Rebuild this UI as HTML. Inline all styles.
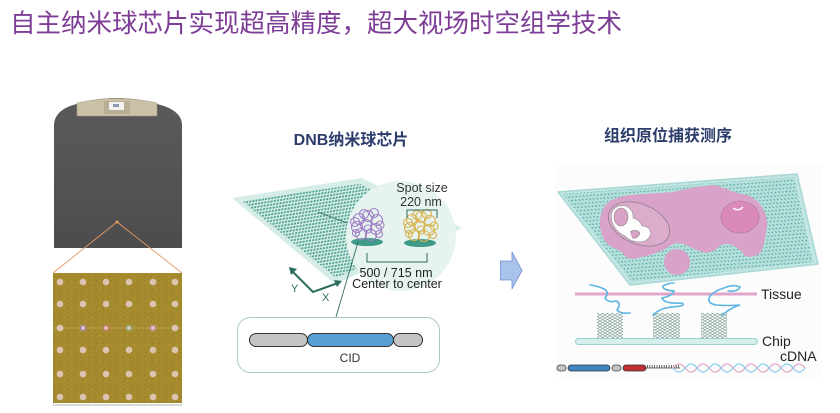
<!DOCTYPE html>
<html><head><meta charset="utf-8"><style>
html,body{margin:0;padding:0;background:#fff;}
svg{display:block;}
.cn{font-family:"Liberation Sans","Noto Sans CJK SC",sans-serif;}
.en{font-family:"Liberation Sans",sans-serif;}
</style></head><body>
<svg width="840" height="413" viewBox="0 0 840 413" xmlns="http://www.w3.org/2000/svg">
<defs>
  <linearGradient id="plate" x1="0" y1="0" x2="0" y2="1">
    <stop offset="0" stop-color="#5a5a5a"/>
    <stop offset="0.6" stop-color="#535353"/>
    <stop offset="1" stop-color="#4c4c4c"/>
  </linearGradient>
  <pattern id="cdots" width="3.2" height="3.2" patternUnits="userSpaceOnUse" patternTransform="rotate(-9) skewX(-20)">
    <rect width="3.2" height="3.2" fill="#d3ebe5"/>
    <rect x="0.5" y="0.5" width="2" height="1.8" fill="#4aa190"/>
  </pattern>
  <pattern id="rdots" width="3.6" height="3.6" patternUnits="userSpaceOnUse" patternTransform="rotate(-4.3) skewX(37)">
    <rect width="3.6" height="3.6" fill="#b4e0dc"/>
    <rect x="1" y="1" width="1.3" height="1.3" fill="#4f9c96"/>
  </pattern>
  <pattern id="mesh" width="5" height="3" patternUnits="userSpaceOnUse">
    <rect width="5" height="3" fill="#fff"/>
    <path d="M0,0 L5,3 M5,0 L0,3" stroke="#7f9d94" stroke-width="0.6"/>
  </pattern>
  <pattern id="gold" width="7" height="9" patternUnits="userSpaceOnUse">
    <rect width="7" height="9" fill="#a68b2e"/>
    <rect x="1" y="2" width="1" height="1" fill="#b89a3c"/>
    <rect x="4" y="6" width="1" height="1" fill="#927626"/>
    <rect x="5" y="1" width="1" height="1" fill="#8f7425"/>
  </pattern>
</defs>

<!-- Title -->
<text x="10" y="32" class="cn" font-size="25.5" fill="#7d3d96">自主纳米球芯片实现超高精度，超大视场时空组学技术</text>

<!-- Left chip plate -->
<path d="M54,248 L54,124 Q55,112 70,106 Q117,90 164,106 Q181,112 182,124 L182,248 Z" fill="url(#plate)"/>
<path d="M77,116 L77,103 Q117,94 157,103 L157,116 Z" fill="#cbc1a7" stroke="#a39a82" stroke-width="0.6"/>
<rect x="104" y="101" width="26" height="13" fill="#b8ae96"/>
<rect x="109" y="102" width="15" height="8" fill="#f2f2ee"/>
<rect x="113" y="104" width="6" height="3" fill="#8a9bb0"/>
<circle cx="117" cy="222" r="1.5" fill="#e8a040"/>
<line x1="117" y1="222" x2="53" y2="273" stroke="#e49a66" stroke-width="0.9"/>
<line x1="117" y1="222" x2="182" y2="273" stroke="#e49a66" stroke-width="0.9"/>

<!-- Gold microscope image -->
<rect x="53" y="273" width="129" height="130" fill="url(#gold)"/>
<g fill="#dcc3b2">
  <circle cx="60" cy="282" r="3.3"/><circle cx="83" cy="282" r="3.3"/><circle cx="106" cy="282" r="3.3"/><circle cx="129" cy="282" r="3.3"/><circle cx="153" cy="282" r="3.3"/><circle cx="175" cy="282" r="3.3"/>
  <circle cx="60" cy="304" r="3.3"/><circle cx="83" cy="304" r="3.3"/><circle cx="106" cy="304" r="3.3"/><circle cx="129" cy="304" r="3.3"/><circle cx="153" cy="304" r="3.3"/><circle cx="175" cy="304" r="3.3"/>
  <circle cx="60" cy="328" r="3.3"/><circle cx="83" cy="328" r="3.3"/><circle cx="106" cy="328" r="3.3"/><circle cx="129" cy="328" r="3.3"/><circle cx="153" cy="328" r="3.3"/><circle cx="175" cy="328" r="3.3"/>
  <circle cx="60" cy="350" r="3.3"/><circle cx="83" cy="350" r="3.3"/><circle cx="106" cy="350" r="3.3"/><circle cx="129" cy="350" r="3.3"/><circle cx="153" cy="350" r="3.3"/><circle cx="175" cy="350" r="3.3"/>
  <circle cx="60" cy="374" r="3.3"/><circle cx="83" cy="374" r="3.3"/><circle cx="106" cy="374" r="3.3"/><circle cx="129" cy="374" r="3.3"/><circle cx="153" cy="374" r="3.3"/><circle cx="175" cy="374" r="3.3"/>
  <circle cx="60" cy="397" r="3.3"/><circle cx="83" cy="397" r="3.3"/><circle cx="106" cy="397" r="3.3"/><circle cx="129" cy="397" r="3.3"/><circle cx="153" cy="397" r="3.3"/><circle cx="175" cy="397" r="3.3"/>
</g>
<line x1="53" y1="328" x2="182" y2="328" stroke="#f0e6d0" stroke-width="0.6" stroke-dasharray="1 1.5"/>
<circle cx="83" cy="328" r="2.5" fill="none" stroke="#6a5ab0" stroke-width="0.8"/>
<circle cx="106" cy="328" r="2.5" fill="none" stroke="#c04040" stroke-width="0.8"/>
<circle cx="129" cy="328" r="2.5" fill="none" stroke="#4a9a5a" stroke-width="0.8"/>
<circle cx="153" cy="328" r="2.5" fill="none" stroke="#b05aa0" stroke-width="0.8"/>
<line x1="53" y1="405" x2="182" y2="405" stroke="#b0b0b0" stroke-width="1"/>

<!-- Center title -->
<text x="351" y="145" class="cn" font-size="16" fill="#2c3d6c" text-anchor="middle" font-weight="bold">DNB纳米球芯片</text>

<!-- Center plane -->
<polygon points="232,198 362,178 462,228 335,284" fill="#d6ede7"/>
<polygon points="242,201 360,184 445,228 336,278" fill="url(#cdots)"/>
<line x1="318" y1="212" x2="355" y2="226" stroke="#2f6b60" stroke-width="0.9"/>
<!-- magnifier circle -->
<circle cx="401" cy="236" r="55" fill="#e7f3ef"/>
<!-- axes -->
<g stroke="#2e6b5f" stroke-width="2" fill="none">
  <polyline points="292,271 313,292 338,283"/>
</g>
<polygon points="289,267 297,269 291,275" fill="#2e6b5f"/>
<polygon points="342,281 334,280 337,287" fill="#2e6b5f"/>
<text x="291" y="292" class="en" font-size="11" fill="#2e6b5f">Y</text>
<text x="322" y="301" class="en" font-size="11" fill="#2e6b5f">X</text>

<!-- DNBs -->
<ellipse cx="367" cy="242" rx="16" ry="4" fill="#3f9a88"/>
<ellipse cx="420" cy="243" rx="16" ry="4" fill="#3f9a88"/>
<g fill="none" stroke="#9f80c6" stroke-width="1.1">
  <circle cx="359" cy="219" r="5.5"/><circle cx="368" cy="216" r="5.5"/><circle cx="377" cy="220" r="5.5"/>
  <circle cx="357" cy="227" r="5.5"/><circle cx="366" cy="225" r="5.5"/><circle cx="376" cy="229" r="5.5"/>
  <circle cx="361" cy="234" r="5.5"/><circle cx="371" cy="235" r="5.5"/><circle cx="364" cy="214" r="4.5"/>
  <circle cx="374" cy="213" r="4.5"/><circle cx="355" cy="222" r="4.5"/><circle cx="380" cy="225" r="4"/>
  <circle cx="368" cy="229" r="4"/><circle cx="356" cy="233" r="3.5"/><circle cx="379" cy="234" r="3.5"/>
</g>
<g fill="none" stroke="#d8b34e" stroke-width="1.1">
  <circle cx="412" cy="220" r="5.5"/><circle cx="421" cy="217" r="5.5"/><circle cx="430" cy="221" r="5.5"/>
  <circle cx="410" cy="228" r="5.5"/><circle cx="419" cy="226" r="5.5"/><circle cx="429" cy="230" r="5.5"/>
  <circle cx="414" cy="235" r="5.5"/><circle cx="424" cy="236" r="5.5"/><circle cx="417" cy="215" r="4.5"/>
  <circle cx="427" cy="214" r="4.5"/><circle cx="408" cy="223" r="4.5"/><circle cx="434" cy="226" r="4"/>
  <circle cx="421" cy="230" r="4"/><circle cx="409" cy="234" r="3.5"/><circle cx="433" cy="235" r="3.5"/>
</g>
<line x1="358" y1="242" x2="336" y2="317" stroke="#2f6b60" stroke-width="0.9"/>

<text x="422" y="192" class="en" font-size="12.5" fill="#333" text-anchor="middle">Spot size</text>
<text x="421" y="206" class="en" font-size="12.5" fill="#333" text-anchor="middle">220 nm</text>
<polyline points="407,218 407,210 437,210 437,218" fill="none" stroke="#2f6b60" stroke-width="1"/>
<polyline points="367,253 367,262 427,262 427,253" fill="none" stroke="#2f6b60" stroke-width="1"/>
<text x="396" y="277" class="en" font-size="12.5" fill="#222" text-anchor="middle">500 / 715 nm</text>
<text x="397" y="288" class="en" font-size="12.5" fill="#222" text-anchor="middle">Center to center</text>

<!-- CID box -->
<rect x="237.5" y="317.5" width="202" height="55" rx="13" fill="#fff" stroke="#a9c7c6" stroke-width="1"/>
<rect x="249.5" y="333.5" width="58" height="13" rx="6.5" fill="#c4c4c4" stroke="#333" stroke-width="1"/>
<rect x="393.5" y="333.5" width="29" height="13" rx="6.5" fill="#c4c4c4" stroke="#333" stroke-width="1"/>
<rect x="307.5" y="333.5" width="86" height="13" rx="6.5" fill="#56a0d4" stroke="#333" stroke-width="1"/>
<text x="350" y="362" class="en" font-size="12" fill="#333" text-anchor="middle">CID</text>

<!-- Arrow -->
<polygon points="500.5,261 512,261 512,252 522,270.5 512,289 512,280 500.5,280" fill="#a9c3ea" stroke="#7090d6" stroke-width="0.8"/>

<!-- Right title -->
<text x="668" y="141" class="cn" font-size="16" fill="#2c3d6c" text-anchor="middle" font-weight="bold">组织原位捕获测序</text>

<!-- Right panel -->
<rect x="555" y="165" width="267" height="213" fill="#fcfcfc"/>
<polygon points="558,192 797,174 818,264 630,285" fill="#c2e6e3" stroke="#a8d8d4" stroke-width="1.5" stroke-linejoin="round"/>
<polygon points="563,194 794,177 813,262 632,282" fill="url(#rdots)"/>
<!-- tissue -->
<path d="M600,220 Q602,206 610,201 Q620,196 630,195 L673,192 Q690,188 697,187 L713,185 Q726,188 733,192 L747,195 Q757,199 761,206 Q768,215 767,225 Q766,240 761,252 Q753,259 745,256 Q740,249 734,246 Q727,242 720,246 Q714,252 707,253 Q697,251 690,247 Q683,243 676,243 Q670,245 665,249 Q652,255 642,257 Q632,261 626,257 Q622,251 614,248 Q605,244 603,237 Q599,229 600,220 Z" fill="#d9a2c8"/>
<circle cx="677" cy="262" r="13" fill="#d9a2c8"/>
<ellipse cx="639" cy="224" rx="32" ry="20" transform="rotate(22 639 224)" fill="#dcaccd" stroke="#8a8088" stroke-width="0.8"/>
<path d="M612,212 Q616,204 626,206 Q634,210 633,218 Q640,220 642,226 Q650,226 651,234 Q648,242 640,242 Q630,242 625,236 Q616,232 613,224 Q610,218 612,212 Z" fill="#fff" stroke="#888" stroke-width="0.6"/>
<ellipse cx="621" cy="217" rx="7" ry="9" fill="#d7a3c7" stroke="#888" stroke-width="0.6"/>
<path d="M630,232 Q636,228 640,233 Q638,239 632,238" fill="#d7a3c7" stroke="#888" stroke-width="0.6"/>
<ellipse cx="740" cy="217" rx="19" ry="16" fill="#d98ab9" stroke="#a8739a" stroke-width="0.6"/>
<path d="M733,208 Q738,212 743,207" fill="none" stroke="#fff" stroke-width="1.3"/>

<!-- lower schematic -->
<line x1="575" y1="294" x2="757" y2="294" stroke="#e0a6cb" stroke-width="3"/>
<text x="761" y="299" class="en" font-size="14" fill="#222">Tissue</text>
<rect x="597" y="313" width="26" height="26" fill="url(#mesh)"/>
<rect x="653" y="313" width="27" height="26" fill="url(#mesh)"/>
<rect x="701" y="313" width="26" height="26" fill="url(#mesh)"/>
<rect x="575.5" y="338.5" width="182" height="6" rx="3" fill="#d5eeee" stroke="#9dcfcf" stroke-width="1"/>
<text x="762" y="346" class="en" font-size="14" fill="#222">Chip</text>
<text x="780" y="361" class="en" font-size="14" fill="#222">cDNA</text>
<g fill="none" stroke="#5ab4e2" stroke-width="1.6" stroke-linecap="round">
  <path d="M590,285 Q598,286 604,289 Q610,292 605,298 Q608,303 616,301 Q622,303 617,310 Q620,314 630,313"/>
  <path d="M653,315 Q660,308 672,307 Q687,306 682,303 Q664,304 662,298 Q672,296 674,291 Q662,290 663,286 Q668,283 674,283"/>
  <path d="M722,315 Q732,307 740,305 Q728,306 716,305 Q706,303 710,296 Q716,290 724,288 Q733,284 740,287 Q738,292 728,291"/>
</g>
<!-- cDNA bar -->
<rect x="557" y="365" width="9" height="6" rx="3" fill="#c4c4c4" stroke="#444" stroke-width="0.8"/>
<rect x="568" y="365" width="42" height="6" rx="3" fill="#3f86c0" stroke="#333" stroke-width="0.8"/>
<rect x="612" y="365" width="9" height="6" rx="3" fill="#c4c4c4" stroke="#444" stroke-width="0.8"/>
<rect x="623" y="365" width="23" height="6" rx="3" fill="#c0302e" stroke="#333" stroke-width="0.8"/>
<line x1="646" y1="368" x2="680" y2="368" stroke="#444" stroke-width="0.8"/>
<line x1="647" y1="366.5" x2="680" y2="366.5" stroke="#444" stroke-width="3" stroke-dasharray="0.8 1.6"/>
<path d="M673,368 q6,-8 12,0 t12,0 t12,0 t12,0 t12,0 t12,0 t12,0 t12,0 t12,0 t12,0 t12,0" fill="none" stroke="#e6a6c8" stroke-width="1.2"/>
<path d="M673,368 q6,8 12,0 t12,0 t12,0 t12,0 t12,0 t12,0 t12,0 t12,0 t12,0 t12,0 t12,0" fill="none" stroke="#8fd0ec" stroke-width="1.2"/>
</svg>
</body></html>
